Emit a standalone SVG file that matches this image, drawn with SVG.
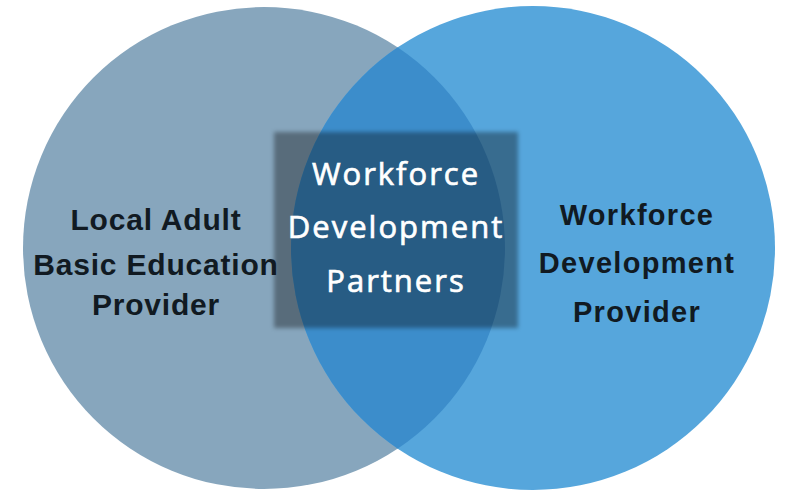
<svg xmlns="http://www.w3.org/2000/svg" width="787" height="493" viewBox="0 0 787 493">
  <style>
    .side { font-family: "Liberation Sans", Arial, sans-serif; font-weight: bold; fill: #111a22; text-anchor: middle; }
    .center { font-family: "Open Sans", "Liberation Sans", sans-serif; fill: #ffffff; stroke: #ffffff; stroke-width: 0.7px; text-anchor: middle; font-size: 31px; letter-spacing: 2px; }
  </style>
  <defs>
    <clipPath id="leftClip">
      <circle cx="264" cy="248" r="241"/>
    </clipPath>
    <filter id="soft" x="-10%" y="-10%" width="120%" height="120%">
      <feGaussianBlur stdDeviation="2"/>
    </filter>
  </defs>
  <rect x="0" y="0" width="787" height="493" fill="#ffffff"/>
  <g id="left-circle">
    <circle cx="264" cy="248" r="241" fill="#87a6bd"/>
  </g>
  <g id="right-circle">
    <circle cx="533" cy="248" r="242" fill="#56a6dc"/>
    <circle cx="533" cy="248" r="242" fill="#3c8dcb" clip-path="url(#leftClip)"/>
  </g>
  <g id="center-box">
    <rect x="274" y="132" width="244" height="196" fill="#000000" fill-opacity="0.35" filter="url(#soft)"/>
    <text class="center" x="396" y="185">Workforce</text>
    <text class="center" x="396" y="238">Development</text>
    <text class="center" x="396" y="292">Partners</text>
  </g>
  <g id="left-label">
    <text class="side" x="156" y="230" font-size="30" letter-spacing="0.8">Local Adult</text>
    <text class="side" x="156" y="275" font-size="30" letter-spacing="0.8">Basic Education</text>
    <text class="side" x="156" y="315" font-size="30" letter-spacing="0.8">Provider</text>
  </g>
  <g id="right-label">
    <text class="side" x="637" y="225" font-size="29" letter-spacing="1.3">Workforce</text>
    <text class="side" x="637" y="273" font-size="29" letter-spacing="1.3">Development</text>
    <text class="side" x="637" y="322" font-size="29" letter-spacing="1.3">Provider</text>
  </g>
  <g id="connectors"/>
</svg>
